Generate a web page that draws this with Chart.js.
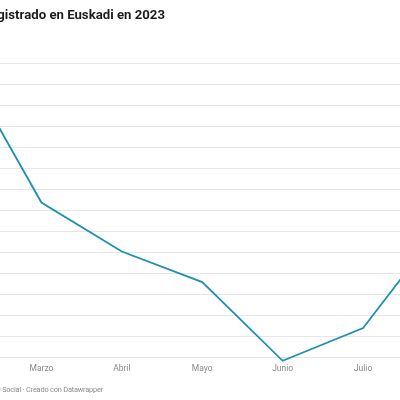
<!DOCTYPE html>
<html>
<head>
<meta charset="utf-8">
<script src="https://cdn.jsdelivr.net/npm/chart.js@4"></script>
<style>
  html, body { margin: 0; padding: 0; width: 400px; height: 400px; overflow: hidden; background: #fff; position: relative; }
  #wrap { position: absolute; left: -42.1px; top: 0; width: 488.5px; height: 400px; }
  #title { position: absolute; right: 235px; top: 6.5px; white-space: nowrap; font-family: Roboto, sans-serif; font-weight: 700; font-size: 13.2px; color: #1d1d1d; }
  #foot { position: absolute; right: 297px; top: 384.5px; white-space: nowrap; font-family: Roboto, sans-serif; font-size: 7.4px; letter-spacing: -0.2px; color: #8c8c8c; }
</style>
</head>
<body>
<div id="wrap"><canvas id="c"></canvas></div>
<div id="title">Paro registrado en Euskadi en 2023</div>
<div id="foot">Fuente: Seguridad Social · Creado con Datawrapper</div>
<script>
// Data (thousands of people)
const months = ["Febrero", "Marzo", "Abril", "Mayo", "Junio", "Julio", "Agosto"];
const paro = [104.59, 101.19, 100.02, 99.29, 97.41, 98.19, 100.69];
const gridTicks = [97.5, 98, 98.5, 99, 99.5, 100, 100.5, 101, 101.5, 102, 102.5, 103, 103.5, 104, 104.5];
const visibleLabels = ["Marzo", "Abril", "Mayo", "Junio", "Julio"];

new Chart(document.getElementById('c'), {
  type: 'line',
  data: {
    labels: months,
    datasets: [{
      data: paro,
      borderColor: '#1e8fb3',
      borderWidth: 1.8,
      pointRadius: 0,
      tension: 0,
      fill: false,
      clip: false
    }]
  },
  options: {
    responsive: true,
    maintainAspectRatio: false,
    animation: false,
    layout: { padding: { top: 53.5, bottom: 22.6, left: 0, right: 0 } },
    plugins: { legend: { display: false }, tooltip: { enabled: false } },
    scales: {
      x: {
        offset: false,
        grid: { display: false, drawTicks: false },
        border: { display: false },
        ticks: {
          padding: 3,
          maxRotation: 0,
          autoSkip: false,
          color: '#8a8a8a',
          font: { family: 'Roboto', size: 8.5 },
          callback: function(v, i) { const l = months[i]; return visibleLabels.includes(l) ? l : ''; }
        }
      },
      y: {
        min: 97.4,
        max: 104.75,
        afterBuildTicks: s => { s.ticks = gridTicks.map(v => ({ value: v })); },
        grid: { color: '#e6e6e6', lineWidth: 1, drawTicks: false },
        border: { display: false },
        ticks: { display: false }
      }
    }
  }
});
</script>
</body>
</html>
